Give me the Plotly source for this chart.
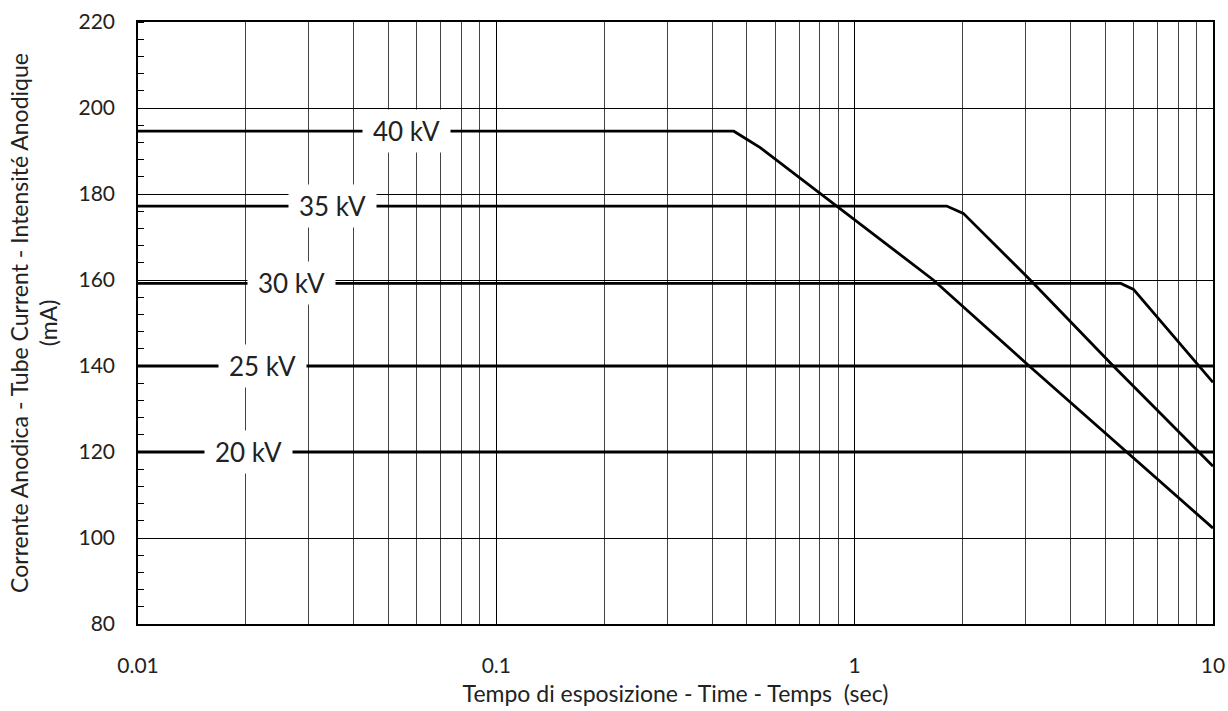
import numpy as np
import plotly.graph_objects as go

# Data
series_names = ["40 kV", "35 kV", "30 kV", "25 kV", "20 kV"]
t40 = [0.01, 0.46, 0.545, 0.804, 1.0, 1.658, 3.07, 5.75, 10]
i40 = [194.6, 194.6, 190.8, 180, 174, 160, 140, 120, 102.3]
t35 = [0.01, 1.806, 2.01, 3.09, 5.27, 10]
i35 = [177.2, 177.2, 175.5, 160, 140, 116.7]
t30 = [0.01, 5.53, 6.0, 10]
i30 = [159.2, 159.2, 157.8, 136.2]
t25 = [0.01, 10]
i25 = [140, 140]
t20 = [0.01, 10]
i20 = [120, 120]

label_x = [0.0562, 0.0348, 0.0268, 0.0223, 0.0204]
label_y = [194.6, 177.2, 159.2, 140, 120]

x_tickvals = [0.01, 0.1, 1, 10]
x_ticktext = ["0.01", "0.1", "1", "10"]
x_minor = [m * d for d in [0.01, 0.1, 1] for m in range(2, 10)]
y_tickvals = list(range(80, 221, 20))

FONT = "Lato"
TXT = "#222222"

fig = go.Figure()
for name, xs, ys in zip(series_names, [t40, t35, t30, t25, t20], [i40, i35, i30, i25, i20]):
    fig.add_trace(go.Scatter(x=xs, y=ys, mode="lines", name=name,
                             line=dict(color="black", width=2.8),
                             showlegend=False, hoverinfo="skip"))

for name, lx, ly in zip(series_names, label_x, label_y):
    fig.add_annotation(x=np.log10(lx), y=ly, xref="x", yref="y", text=name,
                       showarrow=False, bgcolor="white", width=85, height=40,
                       font=dict(family=FONT, size=26, color=TXT))

fig.update_layout(
    width=1228, height=711,
    margin=dict(l=138, r=15, t=22, b=87),
    paper_bgcolor="white", plot_bgcolor="white",
    font=dict(family=FONT, color=TXT),
    xaxis=dict(
        type="log", range=[-2, 1], automargin=False,
        tickmode="array", tickvals=x_tickvals, ticktext=x_ticktext,
        ticks="", ticklabelstandoff=22,
        tickfont=dict(family=FONT, size=21, color=TXT),
        showgrid=True, gridcolor="black", gridwidth=1,
        minor=dict(tickmode="array", tickvals=x_minor, showgrid=True,
                   gridcolor="#444444", gridwidth=1, ticks=""),
        showline=True, linecolor="black", linewidth=1.5, mirror=True,
        zeroline=False,
        title=dict(text="Tempo di esposizione - Time - Temps  (sec)",
                   font=dict(family=FONT, size=23, color=TXT), standoff=10),
    ),
    yaxis=dict(
        range=[80, 220], tickmode="array", tickvals=y_tickvals, automargin=False,
        ticks="", ticklabelstandoff=17,
        tickfont=dict(family=FONT, size=21, color=TXT),
        showgrid=True, gridcolor="black", gridwidth=1,
        minor=dict(dtick=4, tick0=80, ticks="inside", ticklen=6,
                   tickcolor="black", tickwidth=1, showgrid=False),
        showline=True, linecolor="black", linewidth=1.5, mirror=True,
        zeroline=False,
        title=dict(text="Corrente Anodica - Tube Current - Intensité Anodique<br>(mA)",
                   font=dict(family=FONT, size=23, color=TXT), standoff=14),
    ),
)

fig.write_html("out.html",
               config={"displayModeBar": False},
               post_script="document.body.style.margin='0';document.body.style.overflow='hidden';")
